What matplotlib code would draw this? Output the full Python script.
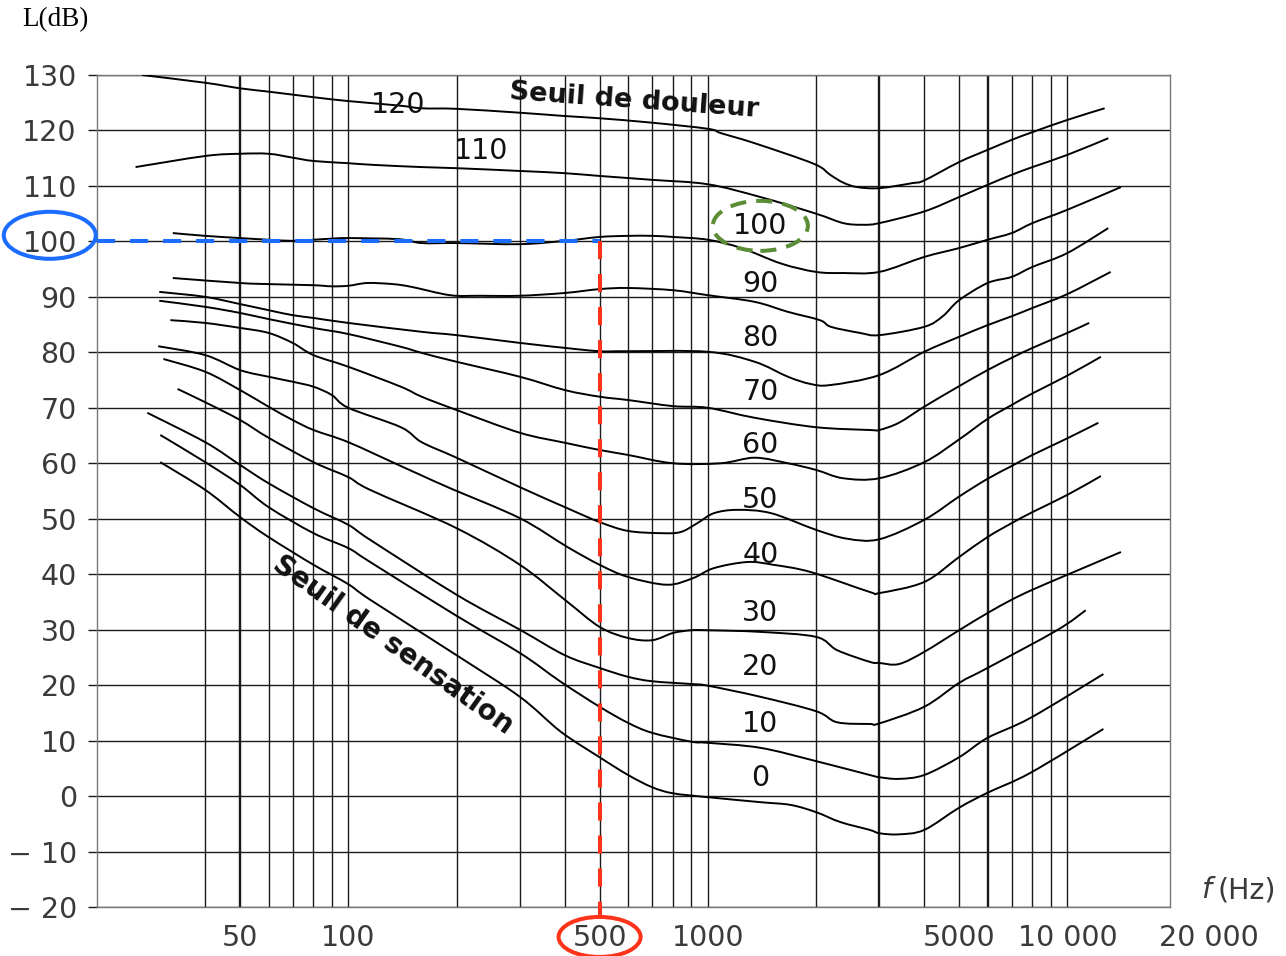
import numpy as np
import matplotlib.pyplot as plt
from matplotlib.patches import Ellipse, PathPatch
from matplotlib.path import Path
from matplotlib.transforms import ScaledTranslation, blended_transform_factory
from matplotlib.ticker import NullLocator

# Equal-loudness contours: frequency (Hz) / level (dB)
f_120 = [26.7, 40, 50, 60, 80, 100, 138, 160, 200, 300, 400, 500, 700, 1000, 1090,
         1350, 1970, 2190, 2380, 2600, 3000, 3700, 4000, 5000, 6000, 7000, 8000, 10000, 12700]
L_120 = [130, 128.6, 127.6, 127, 126, 125.3, 124.5, 124, 123.9, 123.2, 122.6, 122.2, 121.4, 120.3, 119.5,
         117.7, 114, 112, 110.6, 109.8, 109.6, 110.5, 111, 114.3, 116.5, 118.3, 119.7, 121.9, 124]

f_110 = [25.6, 40, 50, 60, 70, 80, 100, 117, 160, 200, 300, 400, 500, 700, 1000,
         1400, 2000, 2380, 2700, 3000, 4000, 5000, 6000, 7000, 8000, 10000, 13000]
L_110 = [113.4, 115.4, 115.8, 115.8, 115.1, 114.5, 114.1, 113.8, 113.4, 113.2, 112.7, 112.3, 111.8, 111.1, 110.3,
         108, 105, 103.3, 103, 103.3, 105.4, 108, 110.2, 112, 113.4, 115.6, 118.6]

f_100 = [32.5, 40, 50, 60, 70, 80, 90, 100, 138, 160, 200, 300, 400, 500, 600, 700, 800, 1000,
         1240, 1600, 2000, 2380, 3000, 4000, 5000, 6000, 7000, 8000, 10000, 14100]
L_100 = [101.5, 101, 100.6, 100.3, 100.1, 100.3, 100.5, 100.6, 100.4, 99.7, 99.7, 99.5, 100.1, 100.8, 101, 101, 100.8, 100.3,
         98.8, 96, 94.5, 94.3, 94.5, 97.2, 98.8, 100.3, 101.5, 103.3, 105.7, 109.8]

f_90 = [32.5, 50, 60, 80, 90, 100, 113, 133, 150, 192, 233, 300, 400, 500, 600, 800, 1000,
        1350, 1670, 2050, 2200, 2650, 3000, 4000, 4500, 5000, 6000, 7000, 8000, 10000, 13000]
L_90 = [93.4, 92.5, 92.3, 92.1, 91.9, 92, 92.5, 92.3, 91.8, 90.3, 90.2, 90.2, 90.7, 91.4, 91.6, 91.2, 90.3,
        89.1, 87.3, 85.8, 84.6, 83.5, 83.1, 84.6, 86.5, 89.4, 92.5, 93.6, 95.4, 97.9, 102.4]

f_80 = [29.8, 40, 50, 60, 70, 80, 100, 160, 200, 300, 400, 500, 600, 1000, 1350, 1670,
        1930, 2190, 3000, 4000, 5000, 6000, 7000, 8000, 10000, 13200]
L_80 = [90.9, 90, 88.7, 87.6, 86.7, 86.2, 85.3, 83.7, 83.1, 81.7, 80.8, 80.2, 80.2, 80.1, 78.3, 75.6,
        74.3, 74.1, 75.9, 80.1, 82.8, 84.9, 86.5, 88, 90.5, 94.5]

f_70 = [29.8, 40, 50, 60, 80, 100, 140, 160, 200, 300, 400, 500, 600, 800, 1000, 1350,
        2000, 2820, 3000, 3400, 4000, 5000, 6000, 7000, 8000, 10000, 11500]
L_70 = [89.3, 88.2, 87.1, 86, 84.4, 83.3, 81, 79.9, 78.3, 75.6, 73.2, 72, 71.4, 70.3, 70, 68.2,
        66.5, 66, 66, 67.3, 70.2, 73.9, 76.8, 79, 80.8, 83.5, 85.3]

f_60 = [32, 40, 50, 60, 70, 80, 100, 140, 160, 200, 300, 400, 500, 600, 800, 1085, 1350, 1670,
        2000, 2380, 3000, 4000, 5000, 6000, 7000, 8000, 10000, 12400]
L_60 = [85.8, 85.3, 84.4, 83.5, 81.7, 79.5, 77.4, 73.8, 72, 69.6, 65.5, 63.7, 62.4, 61.5, 60, 60, 61, 60,
        58.8, 57.3, 57.3, 60.2, 64.3, 68, 70.5, 72.6, 75.8, 79.2]

f_50 = [29.6, 40, 50, 60, 70, 80, 90, 100, 140, 160, 200, 300, 400, 500, 600, 740, 840, 935, 1040,
        1210, 1500, 2000, 2440, 3000, 4000, 5000, 6000, 7000, 8000, 10000, 12200]
L_50 = [81.1, 79.5, 76.8, 75.6, 74.7, 73.8, 72.3, 70, 66.5, 63.8, 61, 55.7, 52.1, 49.4, 47.8, 47.4, 47.6, 49.2, 51,
        51.6, 51, 48, 46.4, 46.3, 49.8, 54, 57.2, 59.5, 61.5, 64.5, 67.3]

f_40 = [30.6, 40, 50, 60, 70, 80, 100, 140, 160, 192, 300, 407, 500, 600, 770, 910, 1040,
        1290, 1520, 1930, 2820, 3000, 4000, 5000, 6000, 7000, 8000, 10000, 12400]
L_40 = [78.8, 76.5, 73.2, 70.2, 67.8, 66, 63.8, 59.5, 57.8, 55.5, 50.1, 44.9, 41.7, 39.5, 38.1, 39.3, 41.1,
        42.2, 41.7, 40.4, 36.8, 36.6, 38.6, 43.1, 46.7, 49.2, 51.2, 54.3, 57.7]

f_30 = [33.5, 40, 50, 60, 80, 100, 115, 200, 300, 400, 500, 600, 700, 800, 900, 1000, 1400,
        2000, 2290, 2820, 3000, 3400, 4000, 5000, 6000, 7000, 8000, 10000, 14100]
L_30 = [73.4, 71, 67.8, 64.6, 60.2, 57.5, 55.2, 48.3, 41.7, 35.4, 30.5, 28.5, 28.1, 29.4, 29.9, 29.9, 29.6,
        28.7, 26.3, 24.2, 24, 23.8, 26, 29.9, 33, 35.4, 37.2, 39.9, 44]

f_20 = [27.6, 40, 50, 60, 80, 100, 115, 200, 300, 400, 500, 600, 700, 900, 1000, 1400,
        2000, 2290, 2820, 3000, 4000, 5000, 6000, 9360, 11250]
L_20 = [69.1, 63.8, 59.7, 56.4, 51.9, 48.9, 46.2, 36.3, 30, 25.4, 23.1, 21.5, 20.7, 20.2, 19.9, 17.9,
        15.3, 13.3, 13, 13.1, 16.1, 20.4, 23.1, 29.9, 33.5]

f_10 = [30, 40, 50, 60, 80, 100, 115, 200, 300, 390, 500, 600, 700, 900, 1000, 1400,
        2000, 2820, 3000, 3400, 4000, 5000, 6000, 7900, 12600]
L_10 = [65.1, 60.2, 56.1, 52.1, 47.4, 44.7, 42.2, 32.5, 25.8, 20.6, 16.1, 13.2, 11.4, 9.8, 9.6, 8.7,
        6.3, 3.8, 3.4, 3.1, 3.8, 7, 10.5, 14.1, 22]

f_0 = [30, 40, 50, 60, 80, 100, 115, 200, 300, 390, 500, 600, 700, 800, 1000, 1400, 1700,
       2000, 2340, 2820, 3000, 3400, 4000, 5000, 6000, 7900, 12600]
L_0 = [60.2, 55.2, 50.3, 46.7, 41.7, 38.2, 35.4, 25.4, 17.9, 11.6, 7, 3.8, 1.6, 0.5, -0.2, -1.1, -1.6,
       -2.9, -4.7, -6.1, -6.7, -6.9, -6.1, -2.1, 0.6, 4.2, 12.1]

contours = [(f_120, L_120), (f_110, L_110), (f_100, L_100), (f_90, L_90), (f_80, L_80),
            (f_70, L_70), (f_60, L_60), (f_50, L_50), (f_40, L_40), (f_30, L_30),
            (f_20, L_20), (f_10, L_10), (f_0, L_0)]

# contour labels and where they sit
phon_labels = ["120", "110", "100", "90", "80", "70", "60", "50", "40", "30", "20", "10", "0"]
label_f = [138, 234, 1400, 1400, 1400, 1400, 1400, 1400, 1400, 1400, 1400, 1400, 1400]
label_L = [124.6, 116.3, 102.8, 92.3, 82.6, 72.9, 63.3, 53.4, 43.5, 33, 23.3, 13, 3.3]

# grid and axes
grid_f = [40, 50, 60, 70, 80, 90, 100, 200, 300, 400, 500, 600, 700, 800, 900, 1000,
          2000, 3000, 4000, 5000, 6000, 7000, 8000, 9000, 10000]
thick_f = [50, 3000, 6000]
x_ticks = [50, 100, 500, 1000, 5000, 10000]
x_ticklabels = ["50", "100", "500", "1000", "5000", "10 000"]
y_ticks = list(range(-20, 131, 10))
y_ticklabels = [("\u2212 " + str(-v)) if v < 0 else str(v) for v in y_ticks]

# the worked example: 100 dB at 500 Hz
f_read = 500
L_read = 100


def smooth_path(f, L):
    """Catmull-Rom through the read points, as cubic Bezier segments (in log f)"""
    x = np.log10(f)
    y = np.asarray(L, dtype=float)
    n = len(x)
    verts = [(x[0], y[0])]
    codes = [Path.MOVETO]
    for i in range(n - 1):
        xa, ya = (x[i - 1], y[i - 1]) if i > 0 else (x[i], y[i])
        xd, yd = (x[i + 2], y[i + 2]) if i + 2 < n else (x[i + 1], y[i + 1])
        verts.append((x[i] + (x[i + 1] - xa) / 6, y[i] + (y[i + 1] - ya) / 6))
        verts.append((x[i + 1] - (xd - x[i]) / 6, y[i + 1] - (yd - y[i]) / 6))
        verts.append((x[i + 1], y[i + 1]))
        codes += [Path.CURVE4] * 3
    verts = np.array(verts)
    verts[:, 0] = 10 ** verts[:, 0]
    return Path(verts, codes)


FONT = "DejaVu Sans"
TICK_FS = 20.5
GREY = "#3a3a3a"
BLUE = "#1c6dff"
RED = "#ff3319"
GREEN = "#5b8c36"

fig = plt.figure(figsize=(12.86, 9.56), dpi=100)
ax = fig.add_axes([97 / 1286, 1 - 907 / 956, 1073 / 1286, 832 / 956])
ax.set_xscale("log")
ax.set_xlim(20, 19300)
ax.set_ylim(-20, 130)

# grid
for f in grid_f:
    ax.axvline(f, color="#1a1a1a", lw=1.7 if f in thick_f else 1.0, zorder=1)
for v in y_ticks:
    ax.axhline(v, color="#1a1a1a", lw=1.0, zorder=1)

for sp in ax.spines.values():
    sp.set_color("#777777")
    sp.set_linewidth(1.0)

ax.xaxis.set_minor_locator(NullLocator())
ax.set_xticks(x_ticks)
ax.set_xticklabels(x_ticklabels, family=FONT)
ax.set_yticks(y_ticks)
ax.set_yticklabels(y_ticklabels, family=FONT)
ax.tick_params(axis="x", length=0, pad=12, labelsize=TICK_FS, labelcolor=GREY)
ax.tick_params(axis="y", length=6.5, width=1.0, color="#1a1a1a", pad=8.0,
               labelsize=TICK_FS, labelcolor=GREY)
ax.annotate("20 000", xy=(1.036, 0), xycoords="axes fraction", xytext=(0, -12),
            textcoords="offset points", ha="center", va="top", fontsize=TICK_FS,
            family=FONT, color=GREY, annotation_clip=False)

# contours
for f, L in contours:
    ax.add_patch(PathPatch(smooth_path(f, L), fill=False, ec="black", lw=1.4, zorder=3))
for s, x, y in zip(phon_labels, label_f, label_L):
    ax.text(x, y, s, fontsize=TICK_FS, family=FONT, color="#111111",
            ha="center", va="center", zorder=4)

ax.text(625, 125.3, "Seuil de douleur", fontsize=19.5, fontweight="bold", rotation=-4.1,
        rotation_mode="anchor", ha="center", va="center", color="#111111", zorder=4)
ax.text(133, 27.2, "Seuil de sensation", fontsize=20, fontweight="bold", rotation=-35.4,
        rotation_mode="anchor", ha="center", va="center", color="#111111", zorder=4)

# axis titles
fig.text(55 / 1286, 1 - 20 / 956, "L(dB)", family="Liberation Serif", fontsize=19.5,
         ha="center", va="center", color="black")
ax.annotate("(Hz)", xy=(1.0715, 0.020), xycoords="axes fraction", ha="center", va="center",
            fontsize=TICK_FS, family=FONT, color=GREY, annotation_clip=False)
ax.annotate("f", xy=(1.0335, 0.021), xycoords="axes fraction", ha="center", va="center",
            fontsize=TICK_FS, style="italic", family=FONT, color=GREY, annotation_clip=False)

# reading lines
ax.plot([20, f_read], [L_read, L_read], color=BLUE, lw=2.9, dashes=(4.5, 3.7),
        clip_on=False, zorder=6)
ax.plot([f_read, f_read], [L_read, -21.5], color=RED, lw=2.9, dashes=(4.5, 3.7),
        clip_on=False, zorder=6)

# circled values
blend = blended_transform_factory(ax.transAxes, ax.transData)
e_blue = Ellipse((0, 0), 0.92, 0.47, fill=False, ec=BLUE, lw=2.9,
                 transform=fig.dpi_scale_trans + ScaledTranslation(-0.044, 101.1, blend))
fig.add_artist(e_blue)
blend_x = blended_transform_factory(ax.transData, ax.transAxes)
e_red = Ellipse((0, 0), 0.82, 0.40, fill=False, ec=RED, lw=2.9,
                transform=fig.dpi_scale_trans + ScaledTranslation(f_read, -0.036, blend_x))
fig.add_artist(e_red)
e_green = Ellipse((0, 0), 0.95, 0.50, fill=False, ec=GREEN, lw=2.9, ls=(0, (4, 2.5)),
                  transform=fig.dpi_scale_trans + ScaledTranslation(label_f[2], label_L[2], ax.transData))
fig.add_artist(e_green)

fig.savefig("out.png", dpi=100)
